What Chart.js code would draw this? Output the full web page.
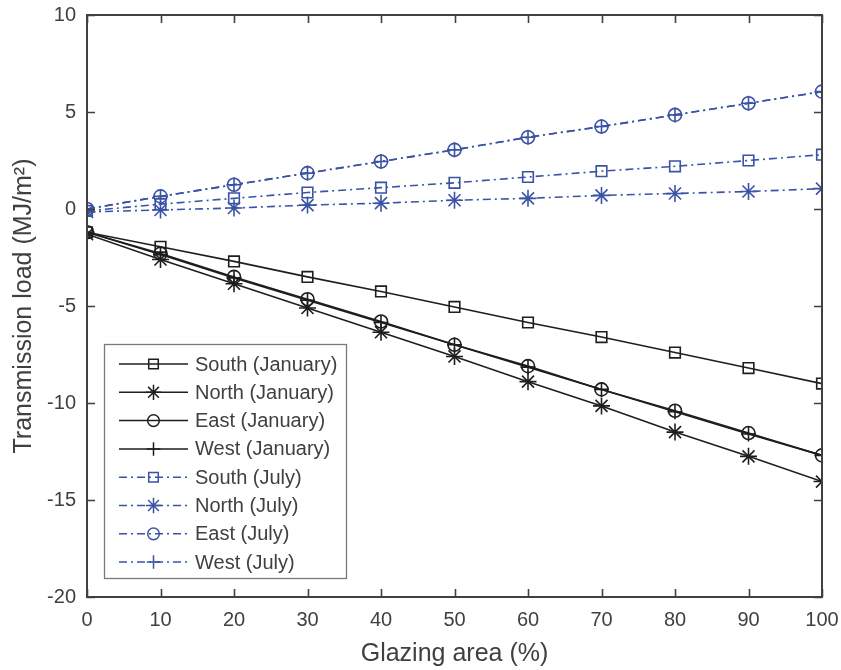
<!DOCTYPE html>
<html>
<head>
<meta charset="utf-8">
<title>Transmission load vs glazing area</title>
<script src="https://cdn.jsdelivr.net/npm/chart.js@4/dist/chart.umd.min.js"></script>
<style>
  html, body { margin: 0; padding: 0; background: #ffffff; }
  #wrap { width: 841px; height: 670px; position: relative; }
</style>
</head>
<body>
<div id="wrap"><canvas id="c" width="841" height="670"></canvas></div>
<script>
// Glazing area (%)
const glazing = [0, 10, 20, 30, 40, 50, 60, 70, 80, 90, 100];

// Transmission load (MJ/m²), January
const southJan = [-1.2, -1.95, -2.7, -3.5, -4.25, -5.05, -5.85, -6.6, -7.4, -8.2, -9.0];
const northJan = [-1.3, -2.6, -3.85, -5.1, -6.35, -7.6, -8.9, -10.15, -11.5, -12.75, -14.05];
const eastJan  = [-1.2, -2.3, -3.5, -4.65, -5.8, -7.0, -8.1, -9.3, -10.4, -11.55, -12.7];
const westJan  = [-1.2, -2.35, -3.55, -4.7, -5.85, -7.0, -8.15, -9.3, -10.45, -11.6, -12.7];

// Transmission load (MJ/m²), July
const southJul = [-0.1, 0.25, 0.55, 0.85, 1.1, 1.35, 1.65, 1.95, 2.2, 2.5, 2.8];
const northJul = [-0.15, -0.05, 0.05, 0.2, 0.3, 0.45, 0.55, 0.7, 0.8, 0.9, 1.05];
const eastJul  = [0.0, 0.65, 1.25, 1.85, 2.45, 3.05, 3.7, 4.25, 4.85, 5.45, 6.05];
const westJul  = [0.0, 0.65, 1.25, 1.85, 2.45, 3.05, 3.7, 4.25, 4.85, 5.45, 6.05];

const xTicks = [0, 10, 20, 30, 40, 50, 60, 70, 80, 90, 100];
const yTicks = [-20, -15, -10, -5, 0, 5, 10];

const BLACK = '#1e1e1e';
const BLUE = '#3a53a4';
const AXIS = '#404040';
const TEXT = '#404040';
const FONT = '"Liberation Sans", Arial, Helvetica, sans-serif';
const DASHDOT = [8, 4, 2, 4];

function series(label, values, color, style, radius, dashed) {
  return {
    label: label,
    data: values.map((v, i) => ({ x: glazing[i], y: v })),
    borderColor: color,
    backgroundColor: 'rgba(0,0,0,0)',
    pointBorderColor: color,
    pointBackgroundColor: 'rgba(0,0,0,0)',
    borderWidth: 1.6,
    pointBorderWidth: 1.6,
    pointStyle: style,
    pointRadius: radius,
    borderDash: dashed ? DASHDOT : [],
    tension: 0,
    fill: false
  };
}

const datasets = [
  series('South (January)', southJan, BLACK, 'rect', 7.5, false),
  series('North (January)', northJan, BLACK, 'star', 8.5, false),
  series('East (January)', eastJan, BLACK, 'circle', 6.5, false),
  series('West (January)', westJan, BLACK, 'cross', 7.5, false),
  series('South (July)', southJul, BLUE, 'rect', 7.5, true),
  series('North (July)', northJul, BLUE, 'star', 8.5, true),
  series('East (July)', eastJul, BLUE, 'circle', 6.5, true),
  series('West (July)', westJul, BLUE, 'cross', 7.5, true)
];

// Frame with inward ticks on all four sides
const framePlugin = {
  id: 'frame',
  afterDatasetsDraw(chart) {
    const { ctx, chartArea: a, scales } = chart;
    const tl = 8;
    ctx.save();
    ctx.strokeStyle = AXIS;
    ctx.lineWidth = 1.6;
    ctx.setLineDash([]);
    ctx.beginPath();
    xTicks.forEach(v => {
      const px = Math.round(scales.x.getPixelForValue(v)) + 0.5;
      ctx.moveTo(px, a.bottom); ctx.lineTo(px, a.bottom - tl);
      ctx.moveTo(px, a.top); ctx.lineTo(px, a.top + tl);
    });
    yTicks.forEach(v => {
      const py = Math.round(scales.y.getPixelForValue(v)) + 0.5;
      ctx.moveTo(a.left, py); ctx.lineTo(a.left + tl, py);
      ctx.moveTo(a.right, py); ctx.lineTo(a.right - tl, py);
    });
    ctx.stroke();
    ctx.lineWidth = 2;
    ctx.strokeRect(a.left, a.top, a.right - a.left, a.bottom - a.top);
    ctx.restore();
  }
};

// Boxed legend inside the plot, line sample running through the marker
const legendPlugin = {
  id: 'boxLegend',
  afterDraw(chart) {
    const { ctx } = chart;
    const bx = 104.5, by = 344.5, bw = 242, bh = 234;
    const rowH = 28.3, firstY = 364;
    ctx.save();
    ctx.fillStyle = '#ffffff';
    ctx.fillRect(bx, by, bw, bh);
    ctx.strokeStyle = '#7a7a7a';
    ctx.lineWidth = 1.3;
    ctx.strokeRect(bx, by, bw, bh);
    chart.data.datasets.forEach((ds, i) => {
      const y = firstY + i * rowH;
      ctx.strokeStyle = ds.borderColor;
      ctx.lineWidth = 1.5;
      ctx.setLineDash(ds.borderDash || []);
      ctx.beginPath();
      ctx.moveTo(119, y);
      ctx.lineTo(188, y);
      ctx.stroke();
      ctx.setLineDash([]);
      ctx.fillStyle = 'rgba(0,0,0,0)';
      ctx.strokeStyle = ds.borderColor;
      ctx.lineWidth = 1.5;
      Chart.helpers.drawPoint(ctx, {
        pointStyle: ds.pointStyle,
        radius: ds.pointRadius * 0.9,
        borderWidth: 1.5,
        rotation: 0
      }, 153.5, y);
      ctx.fillStyle = TEXT;
      ctx.font = '20px ' + FONT;
      ctx.textBaseline = 'middle';
      ctx.textAlign = 'left';
      ctx.fillText(ds.label, 195, y + 1);
    });
    ctx.restore();
  }
};

new Chart(document.getElementById('c'), {
  type: 'line',
  data: { datasets: datasets },
  plugins: [framePlugin, legendPlugin],
  options: {
    responsive: false,
    animation: false,
    events: [],
    layout: { padding: { top: 15, right: 19, left: 0, bottom: 0 } },
    plugins: {
      legend: { display: false },
      tooltip: { enabled: false },
      title: { display: false }
    },
    scales: {
      x: {
        type: 'linear',
        min: 0, max: 100,
        afterFit(scale) {
          scale.height = 73;
          scale.paddingLeft = 0;
          scale.paddingRight = 0;
        },
        afterBuildTicks(scale) { scale.ticks = xTicks.map(v => ({ value: v })); },
        grid: { display: false, drawTicks: false },
        border: { display: false },
        ticks: {
          color: TEXT,
          padding: 11,
          maxRotation: 0,
          font: { family: FONT, size: 20 }
        },
        title: {
          display: true,
          text: 'Glazing area (%)',
          color: TEXT,
          padding: { top: 0, bottom: 1 },
          font: { family: FONT, size: 25 }
        }
      },
      y: {
        type: 'linear',
        min: -20, max: 10,
        afterFit(scale) {
          scale.width = 87;
          scale.paddingTop = 0;
          scale.paddingBottom = 0;
        },
        afterBuildTicks(scale) { scale.ticks = yTicks.map(v => ({ value: v })); },
        grid: { display: false, drawTicks: false },
        border: { display: false },
        ticks: {
          color: TEXT,
          padding: 11,
          font: { family: FONT, size: 20 }
        },
        title: {
          display: true,
          text: 'Transmission load (MJ/m²)',
          color: TEXT,
          padding: { top: 9, bottom: 0 },
          font: { family: FONT, size: 25 }
        }
      }
    }
  }
});
</script>
</body>
</html>
